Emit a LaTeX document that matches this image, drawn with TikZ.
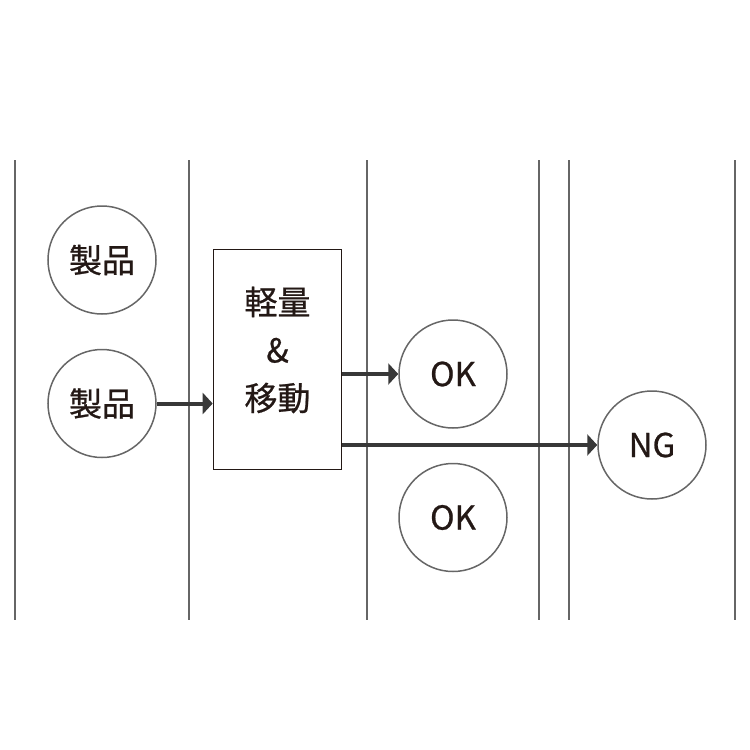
\documentclass[tikz,border=0pt]{standalone}
\usepackage{fontspec}
\setmainfont{Noto Sans CJK JP}[FakeBold=0.7]
\usetikzlibrary{arrows.meta, positioning}
\definecolor{lanegray}{HTML}{666666}
\definecolor{ink}{HTML}{231815}
\definecolor{flowgray}{HTML}{383838}
\tikzstyle{lane}=[draw=lanegray, line width=1.6pt]
\tikzstyle{item}=[draw=lanegray, line width=1.5pt, circle, minimum size=108pt, inner sep=0pt, text=ink, font=\fontsize{33}{40}\selectfont]
\tikzstyle{proc}=[draw=ink, line width=1.6pt, rectangle, minimum width=128pt, minimum height=220pt]
\tikzstyle{proctext}=[align=center, text=ink, font=\fontsize{33}{48}\selectfont]
\tikzstyle{flow}=[->, draw=flowgray, line width=4pt]

\begin{document}
\begin{tikzpicture}[x=1pt, y=-1pt, >={Triangle[length=10pt, width=21pt]}]
    \useasboundingbox (0,0) rectangle (750,750);
    % lanes
    \foreach \x in {15,189,367,539,569,735}
        \draw[lane] (\x,160) -- (\x,620);
    \node[item] (prodA) at (102,260) {製品};
    \node[item, below=34pt of prodA] (prodB) {製品};
    \node[proc, label={[proctext, yshift=9.5pt]center:軽量\\\&\\移動}] (proc) at (277.5,359.5) {};
    \node[item] (okA) at (453,374) {OK};
    \node[item, below=34pt of okA] (okB) {OK};
    \node[item] (ng) at (652,445) {NG};
    \draw[flow] (prodB.east) -- (prodB -| proc.west);
    \draw[flow] (proc.east |- okA) -- (okA.west);
    \draw[flow] (proc.east |- ng) -- (ng.west);
\end{tikzpicture}
\end{document}
